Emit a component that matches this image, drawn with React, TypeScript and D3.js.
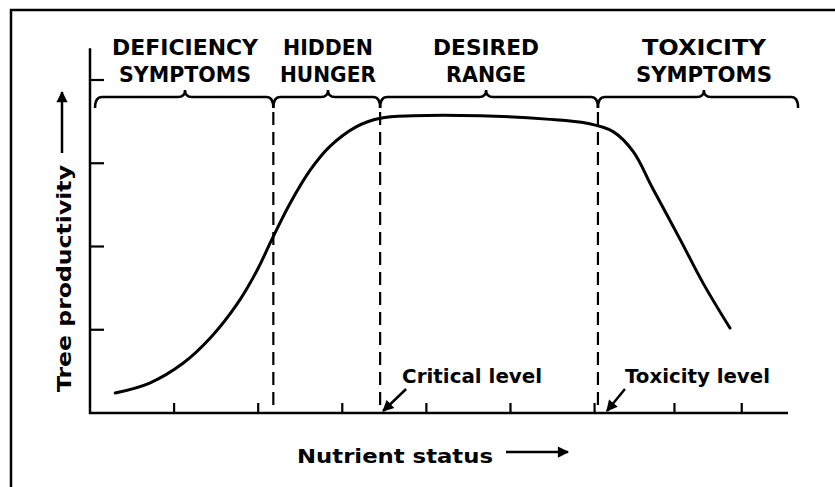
import React from "react";
import * as d3 from "d3";

// nutrient status (x) and tree productivity (y)
const curveX = [0.3, 0.71, 1.11, 1.43, 1.75, 1.99, 2.16, 2.38, 2.62, 2.85, 3.17, 3.45, 3.84, 4.64, 5.43, 5.91, 6.22, 6.46, 6.69, 7.02, 7.29, 7.61];
const curveY = [0.24, 0.36, 0.6, 0.9, 1.31, 1.72, 2.08, 2.52, 2.92, 3.2, 3.44, 3.54, 3.57, 3.57, 3.53, 3.48, 3.38, 3.14, 2.7, 2.08, 1.56, 1.02];

const xTicks = [1, 2, 3, 4, 5, 6, 6.95, 7.75];
const yTicks = [1, 2, 3, 4];

const zoneBounds = [0.06, 2.18, 3.45, 6.04, 8.42];
const zoneCusps = [1.13, 2.83, 4.71, 7.3];
const zoneLabels = [
  ["DEFICIENCY", "SYMPTOMS"],
  ["HIDDEN", "HUNGER"],
  ["DESIRED", "RANGE"],
  ["TOXICITY", "SYMPTOMS"],
];
const zoneLabelWidths = [
  [146, 132],
  [90, 96],
  [106, 80],
  [124, 136],
];

const levelLines = [2.18, 3.45, 6.04];
const levelNames = ["Critical level", "Toxicity level"];
const levelAt = [3.45, 6.04];

const W = 835;
const H = 487;

export default function App() {
  const x = d3.scaleLinear().domain([0, 8.3]).range([90, 788]);
  const y = d3.scaleLinear().domain([0, 4]).range([413, 80]);

  const points: [number, number][] = curveX.map((d, i) => [d, curveY[i]]);
  const line = d3
    .line<[number, number]>()
    .x((d) => x(d[0]))
    .y((d) => y(d[1]))
    .curve(d3.curveCatmullRom.alpha(0.5));

  const braceY = 97;
  const braceDrop = 11;
  const bracePath = (a: number, b: number, c: number) => {
    const x0 = x(a);
    const x1 = x(b);
    const m = x(c);
    const r = 7;
    return [
      `M${x0},${braceY + braceDrop}`,
      `Q${x0},${braceY} ${x0 + r},${braceY}`,
      `L${m - r},${braceY}`,
      `Q${m},${braceY} ${m},${braceY - 7}`,
      `Q${m},${braceY} ${m + r},${braceY}`,
      `L${x1 - r},${braceY}`,
      `Q${x1},${braceY} ${x1},${braceY + braceDrop}`,
    ].join(" ");
  };

  const font = "'DejaVu Sans', sans-serif";

  return (
    <svg
      width={W}
      height={H}
      style={{ position: "absolute", left: 0, top: 0, background: "#fff" }}
    >
      <defs>
        <marker
          id="head"
          viewBox="0 0 10 10"
          refX="9"
          refY="5"
          markerWidth="5.5"
          markerHeight="4.5"
          markerUnits="strokeWidth"
          orient="auto"
        >
          <path d="M0,0 L10,5 L0,10 Z" fill="#000" />
        </marker>
      </defs>

      {/* frame */}
      <path d={`M11,${H} L11,10 L${W},10`} fill="none" stroke="#000" strokeWidth={2.5} />

      {/* axes */}
      <path
        d={`M${x(0)},${y(4.38)} L${x(0)},${y(0)} L${x(8.3)},${y(0)}`}
        fill="none"
        stroke="#000"
        strokeWidth={2.5}
      />
      {yTicks.map((t) => (
        <line key={t} x1={x(0)} x2={x(0) + 14} y1={y(t)} y2={y(t)} stroke="#000" strokeWidth={2.2} />
      ))}
      {xTicks.map((t) => (
        <line key={t} x1={x(t)} x2={x(t)} y1={y(0)} y2={y(0) - 10} stroke="#000" strokeWidth={2.2} />
      ))}

      {/* zone boundaries */}
      {levelLines.map((v) => (
        <line
          key={v}
          x1={x(v)}
          x2={x(v)}
          y1={braceY + braceDrop + 4}
          y2={y(0)}
          stroke="#000"
          strokeWidth={2.2}
          strokeDasharray="13 7"
        />
      ))}

      {/* braces and zone labels */}
      {zoneLabels.map((lab, i) => (
        <g key={i}>
          <path
            d={bracePath(zoneBounds[i], zoneBounds[i + 1], zoneCusps[i])}
            fill="none"
            stroke="#000"
            strokeWidth={2.5}
          />
          {lab.map((s, j) => (
            <text
              key={j}
              x={x(zoneCusps[i])}
              y={55 + j * 27}
              textAnchor="middle"
              fontFamily={font}
              fontWeight="bold"
              fontSize={20.5}
              textLength={zoneLabelWidths[i][j]}
              lengthAdjust="spacingAndGlyphs"
            >
              {s}
            </text>
          ))}
        </g>
      ))}

      {/* response curve */}
      <path d={line(points) ?? ""} fill="none" stroke="#000" strokeWidth={3} strokeLinecap="round" />

      {/* level annotations */}
      {levelNames.map((s, i) => (
        <g key={s}>
          <text
            x={x(levelAt[i]) + (i === 0 ? 22 : 27)}
            y={383}
            fontFamily={font}
            fontWeight="bold"
            fontSize={19.5}
            textLength={i === 0 ? 140 : 145}
            lengthAdjust="spacingAndGlyphs"
          >
            {s}
          </text>
          <line
            x1={x(levelAt[i]) + (i === 0 ? 26 : 27)}
            y1={389}
            x2={x(levelAt[i]) + (i === 0 ? 3 : 9)}
            y2={411}
            stroke="#000"
            strokeWidth={2.5}
            markerEnd="url(#head)"
          />
        </g>
      ))}

      {/* axis titles */}
      <text
        x={297}
        y={463}
        fontFamily={font}
        fontWeight="bold"
        fontSize={20}
        textLength={196}
        lengthAdjust="spacingAndGlyphs"
      >
        Nutrient status
      </text>
      <line x1={506} y1={452} x2={568} y2={452} stroke="#000" strokeWidth={2.5} markerEnd="url(#head)" />

      <text
        transform="translate(71,392) rotate(-90)"
        fontFamily={font}
        fontWeight="bold"
        fontSize={20}
        textLength={227}
        lengthAdjust="spacingAndGlyphs"
      >
        Tree productivity
      </text>
      <line x1={62} y1={153} x2={62} y2={92} stroke="#000" strokeWidth={2.5} markerEnd="url(#head)" />
    </svg>
  );
}
